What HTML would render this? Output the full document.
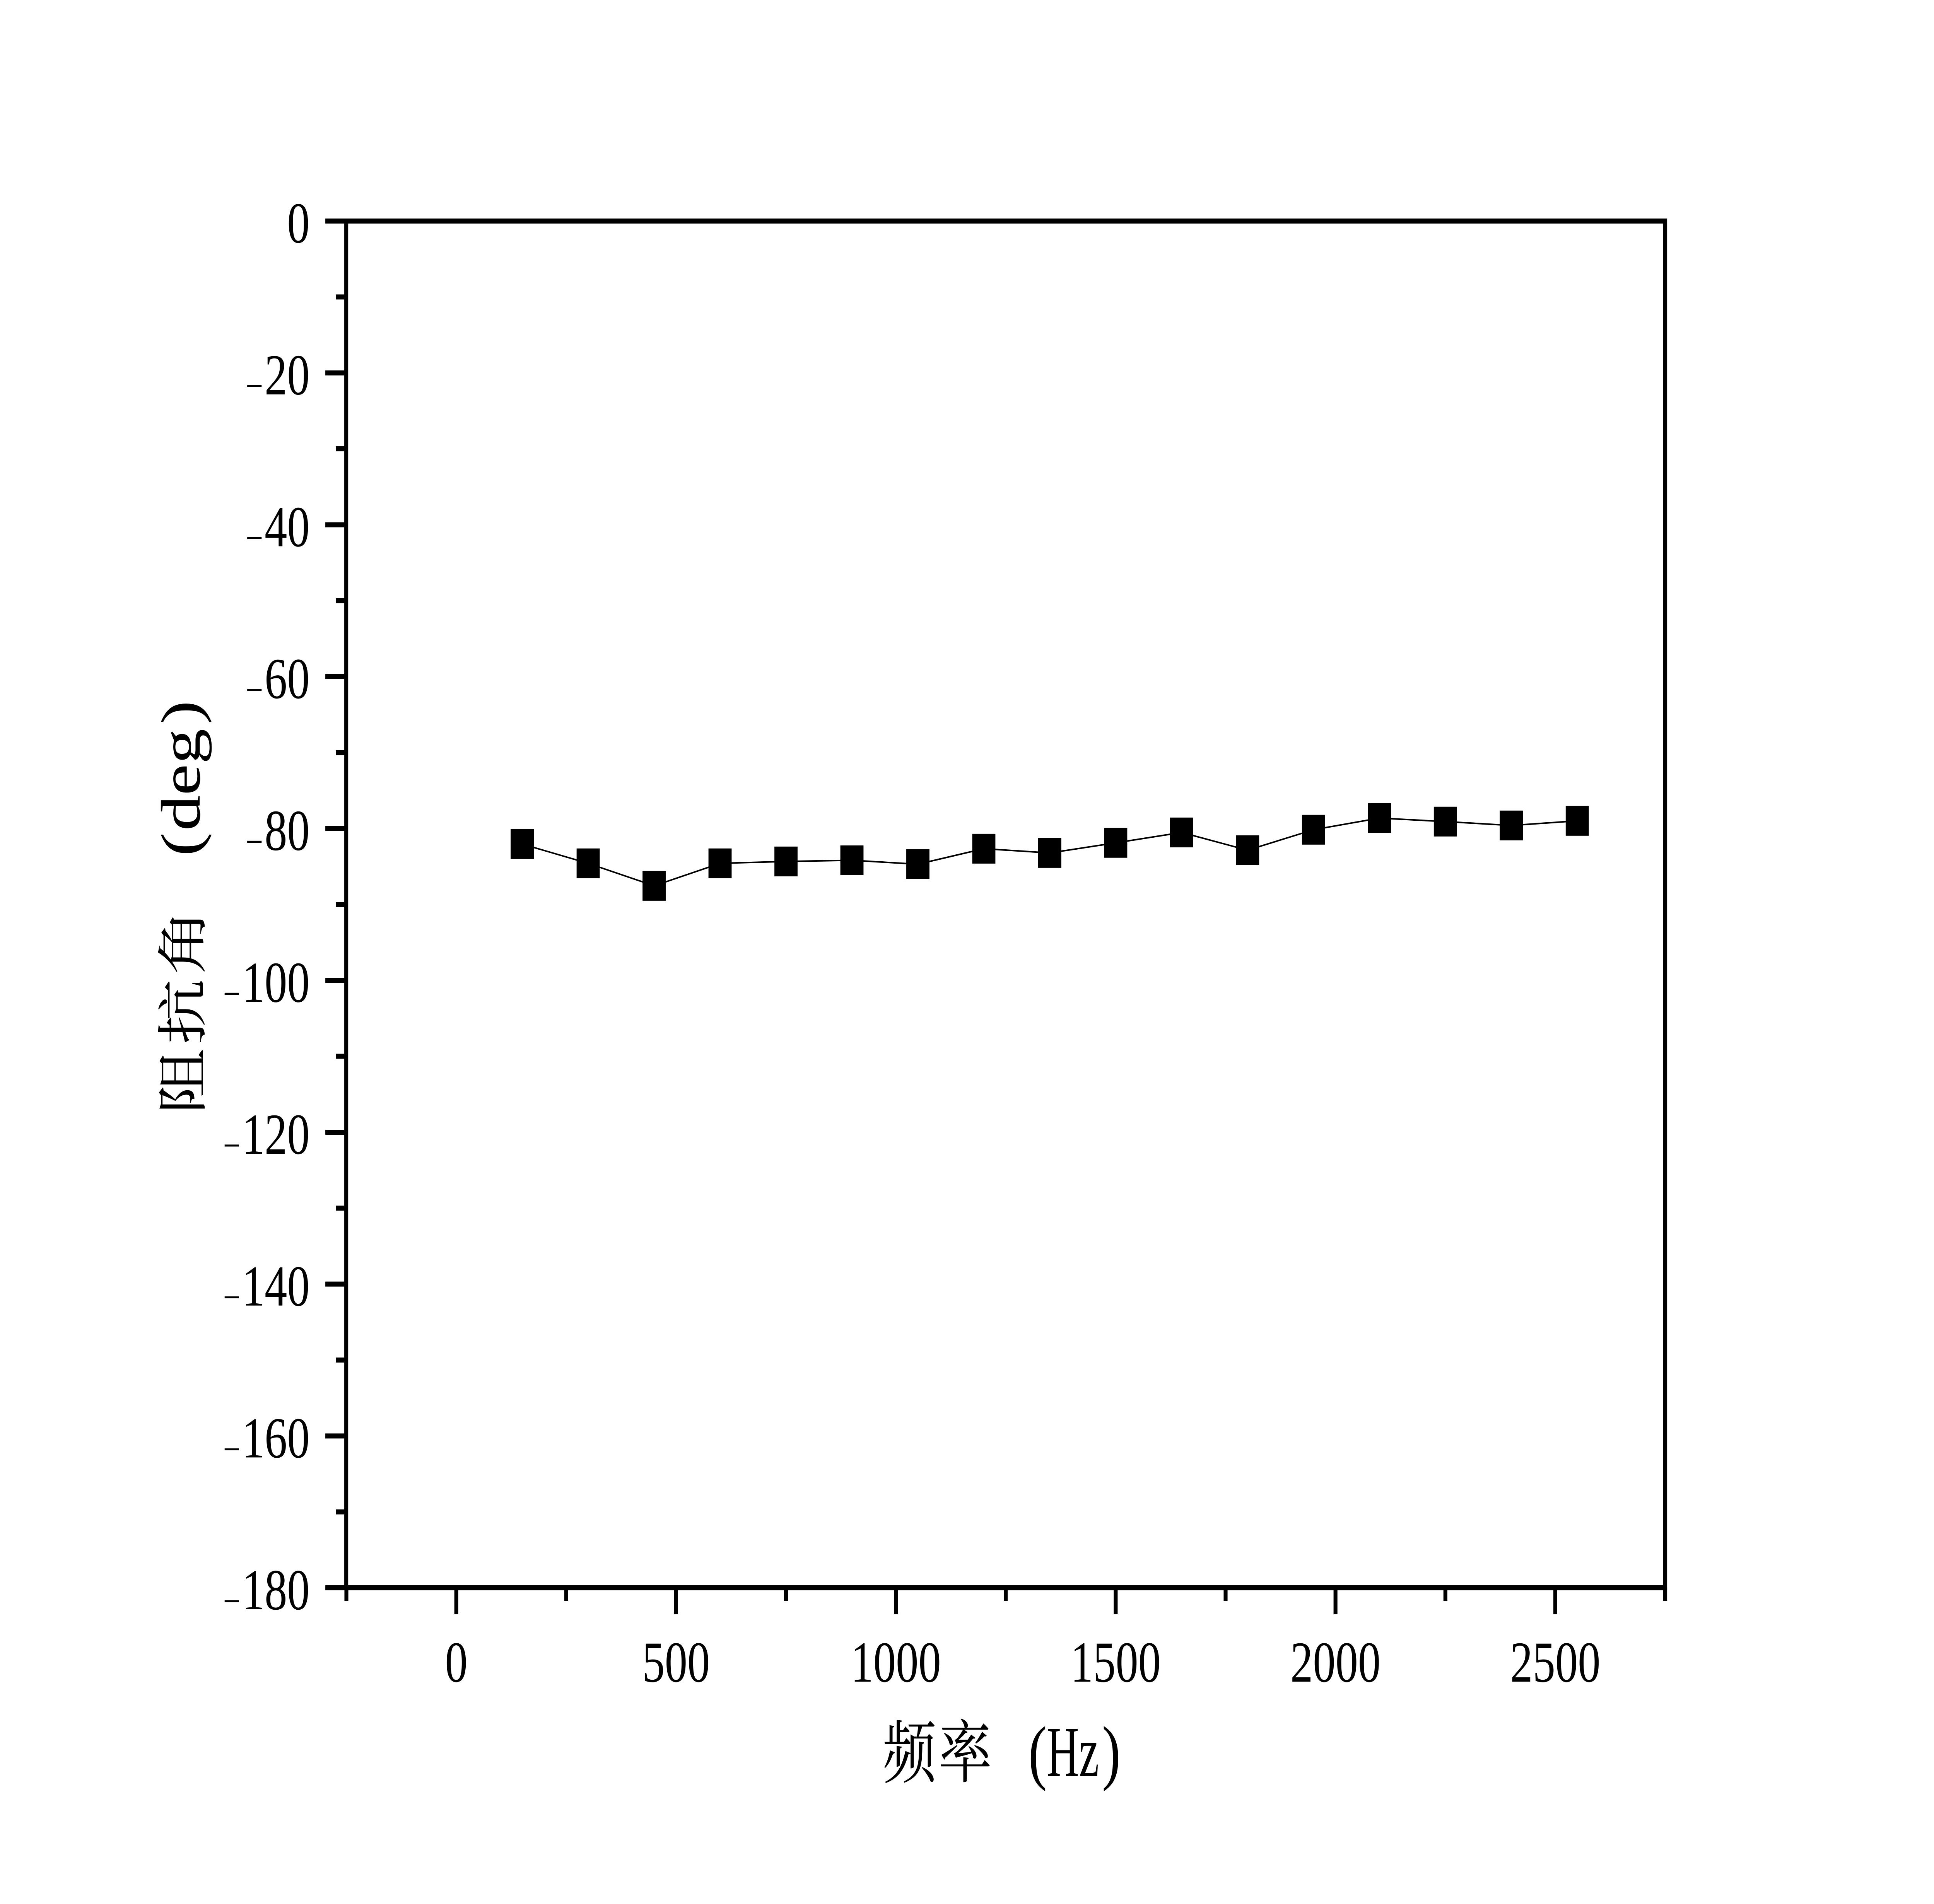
<!DOCTYPE html>
<html lang="zh">
<head>
<meta charset="utf-8">
<title>阻抗角 vs 频率</title>
<style>
html,body{margin:0;padding:0;background:#fff;overflow:hidden;width:100%;height:100%;}
svg{display:block;width:100vw;height:100vh;}
text{fill:#000;font-family:"Liberation Serif","Noto Serif CJK SC",serif;}
</style>
</head>
<body>
<svg id="chart" xmlns="http://www.w3.org/2000/svg" viewBox="0 0 6432 4923" preserveAspectRatio="none">
  <rect x="0" y="0" width="6432" height="4923" fill="#fff"/>
  <g id="ticks"></g>
  <g id="labels"></g>
  <polyline id="series-line" fill="none" stroke="#000" stroke-width="4"/>
  <g id="markers"></g>
  <rect x="1151.5" y="571.5" width="4386.5" height="3534" fill="none" stroke="#000" stroke-width="13"/>
  <text font-size="186" xml:space="preserve"><tspan x="2936" y="4594.5" font-size="178" letter-spacing="7">频率 </tspan><tspan x="3420" y="4592">(</tspan><tspan x="3481" y="4592" textLength="174" lengthAdjust="spacingAndGlyphs">Hz</tspan><tspan x="3665" y="4592">)</tspan></text>
  <g transform="translate(664,0) rotate(-90)">
    <text font-size="186" xml:space="preserve"><tspan x="-2881" y="4" font-size="170" letter-spacing="10">阻抗角 </tspan><tspan x="-2214" y="0">(</tspan><tspan x="-2148" y="0" textLength="264" lengthAdjust="spacingAndGlyphs">deg</tspan><tspan x="-1873" y="0">)</tspan></text>
  </g>
</svg>
<script>
const frequencies = [150, 300, 450, 600, 750, 900, 1050, 1200, 1350, 1500, 1650, 1800, 1950, 2100, 2250, 2400, 2550];
const impedanceAngles = [-82.05, -84.59, -87.55, -84.59, -84.34, -84.19, -84.70, -82.66, -83.22, -81.89, -80.52, -82.86, -80.16, -78.63, -79.09, -79.60, -78.99];
const xMajorTicks = [0, 500, 1000, 1500, 2000, 2500];
const xMinorTicks = [-250, 250, 750, 1250, 1750, 2250, 2750];
const yMajorTicks = [0, -20, -40, -60, -80, -100, -120, -140, -160, -180];
const yMinorTicks = [-10, -30, -50, -70, -90, -110, -130, -150, -170];

const NS = 'http://www.w3.org/2000/svg';
const xScale = v => 1517.5 + (v - 0) * (5172.5 - 1517.5) / 2500;
const yScale = v => 571.5 + (0 - v) * (4105.5 - 571.5) / 180;

const tickLayer = document.getElementById('ticks');
const labelLayer = document.getElementById('labels');
const markerLayer = document.getElementById('markers');

function line(x1, y1, x2, y2) {
  const el = document.createElementNS(NS, 'line');
  el.setAttribute('x1', x1);
  el.setAttribute('y1', y1);
  el.setAttribute('x2', x2);
  el.setAttribute('y2', y2);
  el.setAttribute('stroke', '#000');
  el.setAttribute('stroke-width', 13);
  tickLayer.appendChild(el);
  return el;
}

xMajorTicks.forEach(v => {
  const x = xScale(v);
  const tick = line(x, 4105.5, x, 4174);
  
  
  const t = document.createElementNS(NS, 'text');
  
  
  t.setAttribute('x', x);
  t.setAttribute('y', 4348);
  t.setAttribute('font-size', 150);
  t.setAttribute('text-anchor', 'middle');
  t.textContent = String(v);
  labelLayer.appendChild(t);
});

xMinorTicks.forEach(v => {
  const x = xScale(v);
  const tick = line(x, 4105.5, x, 4139);
  
  
});

yMajorTicks.forEach(v => {
  const y = yScale(v);
  const tick = line(1082, y, 1151.5, y);
  
  
  const digits = String(Math.abs(v));
  const digitStart = 1030 - digits.length * 75;
  const t = document.createElementNS(NS, 'text');
  
  
  t.setAttribute('font-size', 150);
  if (v < 0) {
    const minus = document.createElementNS(NS, 'tspan');
    minus.setAttribute('x', digitStart - 63);
    minus.setAttribute('y', y + 68.5);
    minus.setAttribute('font-size', 103);
    minus.textContent = '\u2212';
    t.appendChild(minus);
  }
  const num = document.createElementNS(NS, 'tspan');
  num.setAttribute('x', digitStart);
  num.setAttribute('y', y + 55.5);
  num.textContent = digits;
  t.appendChild(num);
  labelLayer.appendChild(t);
});

yMinorTicks.forEach(v => {
  const y = yScale(v);
  const tick = line(1117, y, 1151.5, y);
  
  
});

document.getElementById('series-line').setAttribute(
  'points',
  frequencies.map((f, i) => xScale(f) + ',' + yScale(impedanceAngles[i])).join(' ')
);

const MARKER_SIZE = 77;
frequencies.forEach((f, i) => {
  const m = document.createElementNS(NS, 'rect');
  
  
  m.setAttribute('x', xScale(f) - MARKER_SIZE / 2);
  m.setAttribute('y', yScale(impedanceAngles[i]) - MARKER_SIZE / 2);
  m.setAttribute('width', MARKER_SIZE);
  m.setAttribute('height', MARKER_SIZE);
  m.setAttribute('fill', '#000');
  markerLayer.appendChild(m);
});
</script>
</body>
</html>
